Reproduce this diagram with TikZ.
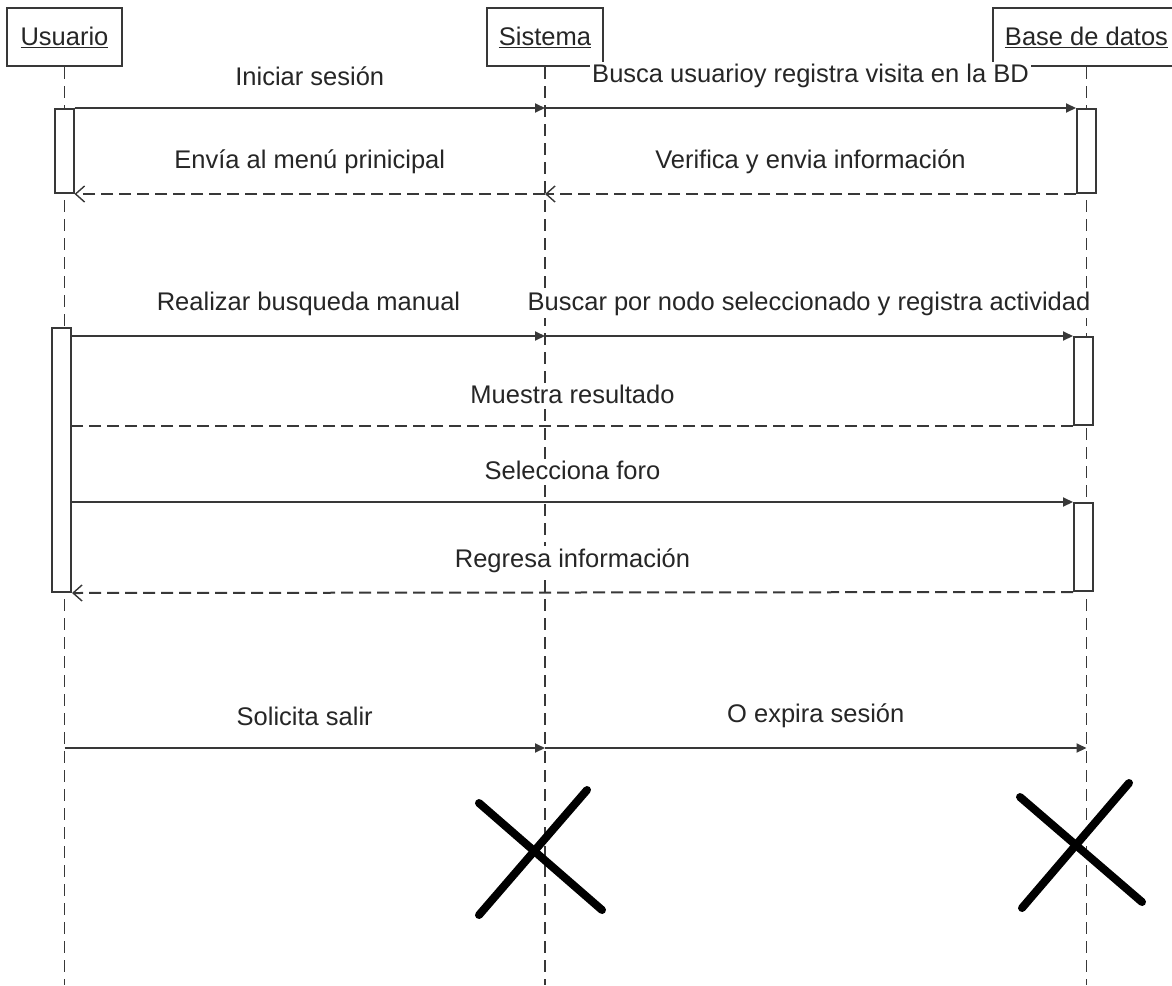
\documentclass[tikz,border=0pt]{standalone}
\usepackage{fontspec}
\setmainfont{Liberation Sans}
\usetikzlibrary{arrows.meta}
\begin{document}
\begin{tikzpicture}[x=1pt,y=-1pt,
  ink/.style={draw=black!78, line width=2pt},
  txt/.style={font=\fontsize{25.5}{30}\selectfont, text=black!85},
  head/.style={ink, txt, rectangle, inner sep=0pt},
  lifeline/.style={draw=black!78, line width=1.8pt, dash pattern=on 12pt off 7pt},
  actbox/.style={ink, fill=white, rectangle, inner sep=0pt, minimum width=19pt, anchor=north},
  call/.style={ink, -{Triangle[length=10pt,width=9pt]}},
  reply/.style={ink, dash pattern=on 12pt off 6pt, -{Straight Barb[length=9pt,width=16pt,line width=1.4pt]}},
  replyplain/.style={ink, dash pattern=on 12pt off 6pt},
  lbl/.style={txt, midway, yshift=32pt, fill=white, inner sep=2pt},
  destroy/.style={line width=8pt, line cap=round, draw=black}]

\clip (0,0) rectangle (1172,985);
\fill[white] (0,0) rectangle (1172,985);

% participants
\node[head, minimum width=115pt, minimum height=58pt] (usr) at (64.5,37) {\underline{Usuario}};
\node[head, minimum width=116pt, minimum height=58pt] (sis) at (545,37) {\underline{Sistema}};
\node[head, minimum width=187pt, minimum height=58pt] (bd) at (1086.5,37) {\underline{Base de datos}};

% lifelines
\coordinate (uEnd) at (64.5,985);
\coordinate (sEnd) at (545,985);
\coordinate (bEnd) at (1086.5,985);
\draw[lifeline] (usr.south) -- (uEnd);
\draw[lifeline] (sis.south) -- (sEnd);
\draw[lifeline] (bd.south) -- (bEnd);

% activation bars
\node[actbox, minimum height=84pt] (ua1) at (64,108) {};
\node[actbox, minimum height=84pt] (ba1) at (1086.5,108) {};
\node[actbox, minimum height=264pt] (ua2) at (61.5,327) {};
\node[actbox, minimum height=88pt] (ba2) at (1083.5,336) {};
\node[actbox, minimum height=88pt] (ba3) at (1083.5,502) {};

% login
\draw[call] (ua1.north east) -- (ua1.north east -| sis.south) node[lbl]{Iniciar sesión};
\draw[call] (ua1.north east -| sis.south) -- (ba1.north west) node[lbl]{Busca usuarioy registra visita en la BD};
\draw[reply] (ba1.south west) -- (ba1.south west -| sis.south) node[lbl]{Verifica y envia información};
\draw[reply] (ba1.south west -| sis.south) -- (ua1.south east) node[lbl]{Envía al menú prinicipal};

% search and forum
\draw[call] (ua2.east |- ba2.north) -- (ba2.north -| sis.south) node[lbl]{Realizar busqueda manual};
\draw[call] (ba2.north -| sis.south) -- (ba2.north west) node[lbl]{Buscar por nodo seleccionado y registra actividad};
\draw[replyplain] (ba2.south west) -- (ua2.east |- ba2.south) node[lbl]{Muestra resultado};
\draw[call] (ua2.east |- ba3.north) -- (ba3.north west) node[lbl]{Selecciona foro};
\draw[reply] (ba3.south west) -- (ua2.south east) node[lbl]{Regresa información};

% logout
\coordinate (uq) at (64.5,748);
\draw[call] (uq) -- (uq -| sis.south) node[lbl]{Solicita salir};
\draw[call] (uq -| sis.south) -- (uq -| bd.south) node[lbl]{O expira sesión};

% destruction marks
\draw[destroy] (479,803) -- (602,910);
\draw[destroy] (479,915) -- (587,790);
\draw[destroy] (1020,797) -- (1142,902);
\draw[destroy] (1022,908) -- (1129,783);
\end{tikzpicture}
\end{document}
